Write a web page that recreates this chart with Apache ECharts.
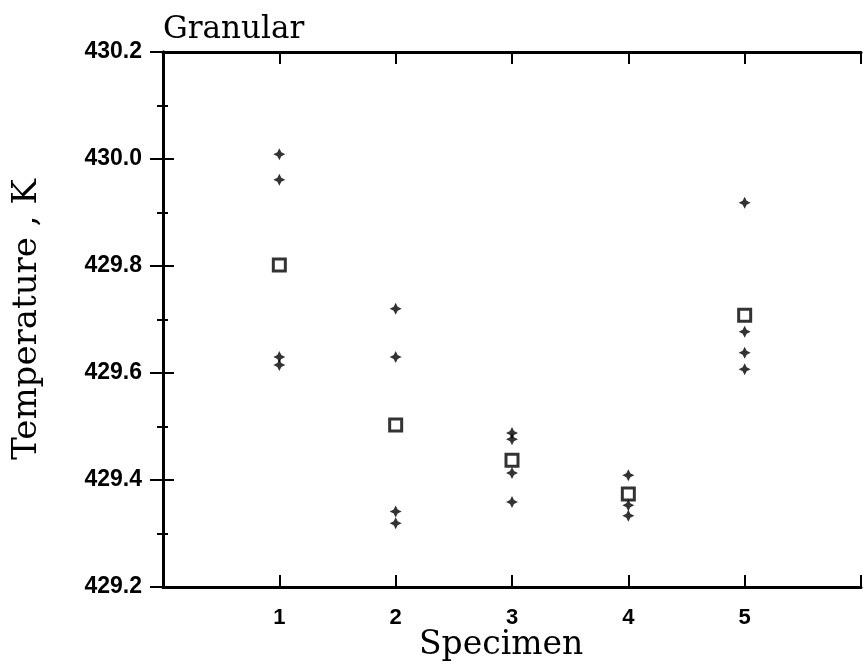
<!DOCTYPE html>
<html>
<head>
<meta charset="utf-8">
<script src="https://cdn.jsdelivr.net/npm/echarts@6/dist/echarts.min.js"></script>
<style>html,body{margin:0;padding:0;background:#fff;}#c{width:866px;height:670px;}</style>
</head>
<body>
<div id="c"></div>
<script>
// Data
const titleText = 'Granular';
const xTitle = 'Specimen';
const yTitle = 'Temperature , K';
const xTickLabels = ['1', '2', '3', '4', '5'];
// individual measurements ("+")
const crossX = [1, 1, 1, 1,
                2, 2, 2, 2,
                3, 3, 3, 3,
                4, 4, 4,
                5, 5, 5, 5];
const crossY = [430.009, 429.961, 429.630, 429.615,
                429.720, 429.630, 429.341, 429.319,
                429.488, 429.476, 429.413, 429.359,
                429.409, 429.353, 429.333,
                429.918, 429.677, 429.638, 429.607];
// mean per specimen (squares)
const meanX = [1, 2, 3, 4, 5];
const meanY = [429.802, 429.503, 429.437, 429.374, 429.708];

const crossData = crossX.map((x, i) => [x, crossY[i]]);
const meanData = meanX.map((x, i) => [x, meanY[i]]);

const serif = '"DejaVu Serif", serif';
const sans = '"Liberation Sans", Arial, sans-serif';
const lineStyle = {color: '#000', width: 3};

const chart = echarts.init(document.getElementById('c'), null, {renderer: 'canvas'});
chart.setOption({
  backgroundColor: '#fff',
  animation: false,
  title: {
    text: titleText, left: 158, top: 9,
    textStyle: {fontFamily: serif, fontSize: 31, fontWeight: 'normal', color: '#000'}
  },
  graphic: [{
    type: 'text', left: 419, top: 629,
    style: {text: xTitle, font: '33px "DejaVu Serif", serif', fill: '#000'}
  }],
  grid: {left: 163, top: 52, right: 5, bottom: 83, containLabel: false},
  xAxis: [{
    type: 'value', min: 0, max: 6, interval: 1, position: 'bottom',
    axisLine: {show: true, lineStyle: lineStyle},
    axisTick: {show: true, inside: true, length: 12, lineStyle: {color: '#000', width: 2}},
    axisLabel: {
      margin: 20, fontFamily: sans, fontWeight: 'bold', fontSize: 22, color: '#000',
      formatter: v => (v >= 1 && v <= 5) ? xTickLabels[v - 1] : ''
    },
    splitLine: {show: false}
  }, {
    type: 'value', min: 0, max: 6, interval: 1, position: 'top',
    axisLine: {show: true, lineStyle: lineStyle},
    axisTick: {show: true, inside: true, length: 12, lineStyle: {color: '#000', width: 2}},
    axisLabel: {show: false},
    splitLine: {show: false}
  }],
  yAxis: [{
    type: 'value', min: 429.2, max: 430.2, interval: 0.2, position: 'left',
    name: yTitle, nameLocation: 'middle', nameGap: 119, nameRotate: 90,
    nameTextStyle: {fontFamily: serif, fontSize: 34, color: '#000'},
    axisLine: {show: true, lineStyle: lineStyle},
    axisTick: {show: true, inside: true, length: 11, lineStyle: {color: '#000', width: 2}},
    minorTick: {show: true, splitNumber: 2, length: 5, lineStyle: {color: '#000', width: 2}},
    axisLabel: {
      margin: 21, fontFamily: sans, fontWeight: 'bold', fontSize: 23, color: '#000',
      formatter: v => v.toFixed(1)
    },
    splitLine: {show: false}
  }, {
    type: 'value', min: 429.2, max: 430.2, interval: 0.2, position: 'right',
    axisLine: {show: true, lineStyle: lineStyle},
    axisTick: {show: true, inside: true, length: 13, lineStyle: {color: '#000', width: 2}},
    minorTick: {show: true, splitNumber: 2, length: 6, lineStyle: {color: '#000', width: 2}},
    axisLabel: {show: false},
    splitLine: {show: false}
  }],
  series: [{
    type: 'scatter', name: 'measurements', xAxisIndex: 0, yAxisIndex: 0,
    data: crossData,
    symbol: 'path://M0,-6 L2,-2 L6,0 L2,2 L0,6 L-2,2 L-6,0 L-2,-2 Z',
    symbolSize: 12,
    itemStyle: {color: '#000'}
  }, {
    type: 'scatter', name: 'mean', xAxisIndex: 0, yAxisIndex: 0,
    data: meanData,
    symbol: 'rect', symbolSize: 12,
    itemStyle: {color: '#fff', borderColor: '#000', borderWidth: 3}
  }]
});
</script>
</body>
</html>
